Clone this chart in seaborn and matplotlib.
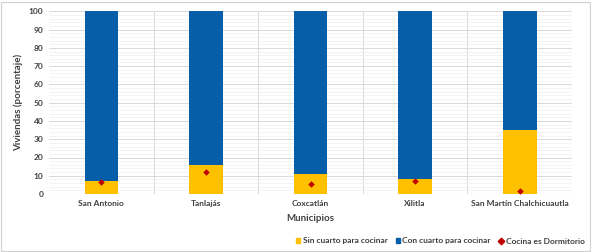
import numpy as np
import pandas as pd
import seaborn as sns
from matplotlib import pyplot as plt
from matplotlib.lines import Line2D
from matplotlib.patches import Patch

municipios = ['San Antonio', 'Tanlajás', 'Coxcatlán', 'Xilitla', 'San Martín Chalchicuautla']
sin_cuarto = [7, 16, 11, 8, 35]
con_cuarto = [93, 84, 89, 92, 65]
cocina_dormitorio = [6.5, 12, 5.5, 7, 1.5]

df = pd.DataFrame({'mun': municipios, 'sin': sin_cuarto, 'con': con_cuarto,
                   'dorm': cocina_dormitorio})

sns.set_style('white')
plt.rcParams['font.family'] = ['Liberation Sans Narrow', 'Lato', 'DejaVu Sans']

amarillo = '#FFC000'
azul = '#065EA8'
rojo = '#C00000'
gris = '#404040'

fig = plt.figure(figsize=(5.91, 2.52), dpi=100)
ax = fig.add_axes([0.083, 0.23, 0.885, 0.725])

sns.barplot(data=df, x='mun', y='sin', color=amarillo, width=0.32, ax=ax,
            saturation=1, linewidth=0, zorder=3)
sns.barplot(data=df, x='mun', y='con', color=azul, width=0.32, ax=ax,
            saturation=1, linewidth=0, bottom=df['sin'], zorder=3)
sns.stripplot(data=df, x='mun', y='dorm', color=rojo, marker='D', size=3.3,
              jitter=False, linewidth=0, ax=ax, zorder=4)

ax.set_ylim(0, 100)
ax.set_xlim(-0.5, 4.5)
ax.set_yticks(range(0, 101, 10))
ax.set_yticks(range(0, 101, 2), minor=True)
ax.grid(axis='y', which='major', color='#d9d9d9', lw=0.7, zorder=0)
ax.grid(axis='y', which='minor', color='#eeeeee', lw=0.5, zorder=0)
for x in np.arange(0.5, 4.5, 1):
    ax.axvline(x, color='#d9d9d9', lw=0.7, zorder=0)

for s in ax.spines.values():
    s.set_visible(False)
ax.axhline(0, color='#d9d9d9', lw=0.8, zorder=1)

ax.tick_params(axis='both', length=0, labelsize=6, pad=4, colors=gris)
for lab in ax.get_xticklabels() + ax.get_yticklabels():
    lab.set_fontweight('bold')
ax.set_xlabel('Municipios', fontsize=7, fontweight='bold', color=gris, labelpad=5)
ax.set_ylabel('Viviendas (porcentaje)', fontsize=7, fontweight='bold', color=gris)

handles = [Patch(color=amarillo, label='Sin cuarto para cocinar'),
           Patch(color=azul, label='Con cuarto para cocinar'),
           Line2D([], [], color=rojo, marker='D', ls='', markersize=3.3,
                  label='Cocina es Dormitorio')]
leg = fig.legend(handles=handles, loc='lower center', bbox_to_anchor=(0.745, 0.0),
                 ncol=3, frameon=False, fontsize=6, handlelength=0.5,
                 handleheight=0.5, handletextpad=0.3, columnspacing=1.0)
for t in leg.get_texts():
    t.set_fontweight('bold')
    t.set_color(gris)

fig.patches.append(plt.Rectangle((0.002, 0.004), 0.996, 0.99, transform=fig.transFigure,
                                 fill=False, edgecolor='#d0d0d0', lw=0.8))

fig.savefig('out.png', dpi=100)
